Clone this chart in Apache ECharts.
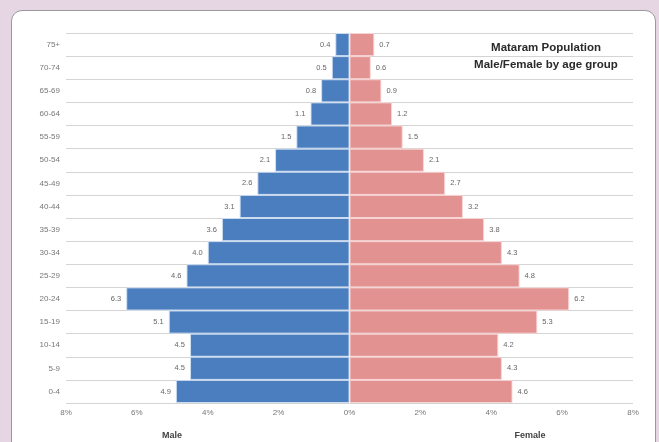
<!DOCTYPE html>
<html>
<head>
<meta charset="utf-8">
<script src="https://cdn.jsdelivr.net/npm/echarts@6/dist/echarts.min.js"></script>
<style>
html,body{margin:0;padding:0;width:659px;height:442px;overflow:hidden;background:#e6d6e4;}
#card{position:absolute;left:11px;top:10px;width:645px;height:450px;background:#fff;border:1px solid #9a9a9a;border-radius:11px;box-sizing:border-box;}
#chart{position:absolute;left:0;top:0;width:659px;height:442px;}
</style>
</head>
<body>
<div id="card"></div>
<div id="chart"></div>
<script>
const ageGroups = ['0-4','5-9','10-14','15-19','20-24','25-29','30-34','35-39','40-44','45-49','50-54','55-59','60-64','65-69','70-74','75+'];
const maleValues = [4.9,4.5,4.5,5.1,6.3,4.6,4.0,3.6,3.1,2.6,2.1,1.5,1.1,0.8,0.5,0.4];
const femaleValues = [4.6,4.3,4.2,5.3,6.2,4.8,4.3,3.8,3.2,2.7,2.1,1.5,1.2,0.9,0.6,0.7];
const xTicks = [-8,-6,-4,-2,0,2,4,6,8];
const titleLines = ['Mataram Population','Male/Female by age group'];
const maleTitle = 'Male';
const femaleTitle = 'Female';

const chart = echarts.init(document.getElementById('chart'), null, {renderer:'canvas'});
const fam = '"Liberation Sans", Arial, sans-serif';
const labelStyle = {fontSize:7.5, color:'#666', fontFamily:fam};
chart.setOption({
  backgroundColor:'transparent',
  animation:false,
  grid:{left:66, right:26, top:33, bottom:39, containLabel:false},
  xAxis:{
    type:'value', min:xTicks[0], max:xTicks[xTicks.length-1], interval:2,
    axisLine:{show:false}, axisTick:{show:false}, splitLine:{show:false},
    axisLabel:{formatter:v=>Math.abs(v)+'%', fontSize:8, color:'#777', margin:6, fontFamily:fam}
  },
  yAxis:{
    type:'category', data:ageGroups, boundaryGap:true,
    axisLine:{show:false}, axisTick:{show:false},
    splitLine:{show:true, lineStyle:{color:'#d4d4d4', width:1}},
    axisLabel:{fontSize:8, color:'#777', margin:6, fontFamily:fam}
  },
  series:[
    {name:'Male', type:'bar', stack:'p', barCategoryGap:'0%',
     data:maleValues.map(v=>-v),
     itemStyle:{color:'#4a7ebe', borderColor:'rgba(210,225,245,0.9)', borderWidth:1},
     label:{show:true, position:'left', distance:5, formatter:p=>Math.abs(p.value).toFixed(1), ...labelStyle}},
    {name:'Female', type:'bar', stack:'p', barCategoryGap:'0%',
     data:femaleValues,
     itemStyle:{color:'#e29391', borderColor:'rgba(250,215,215,0.9)', borderWidth:1},
     label:{show:true, position:'right', distance:5, formatter:p=>p.value.toFixed(1), ...labelStyle}}
  ],
  graphic:[
    {type:'text', x:546, y:39, style:{text:titleLines.join('\n'), textAlign:'center', fill:'#2a2a2a', font:'bold 11.5px "Liberation Sans", Arial, sans-serif', lineHeight:17}},
    {type:'text', x:172, y:431, style:{text:maleTitle, textAlign:'center', fill:'#444', font:'bold 9px "Liberation Sans", Arial, sans-serif'}},
    {type:'text', x:530, y:431, style:{text:femaleTitle, textAlign:'center', fill:'#444', font:'bold 9px "Liberation Sans", Arial, sans-serif'}}
  ]
});
</script>
</body>
</html>
